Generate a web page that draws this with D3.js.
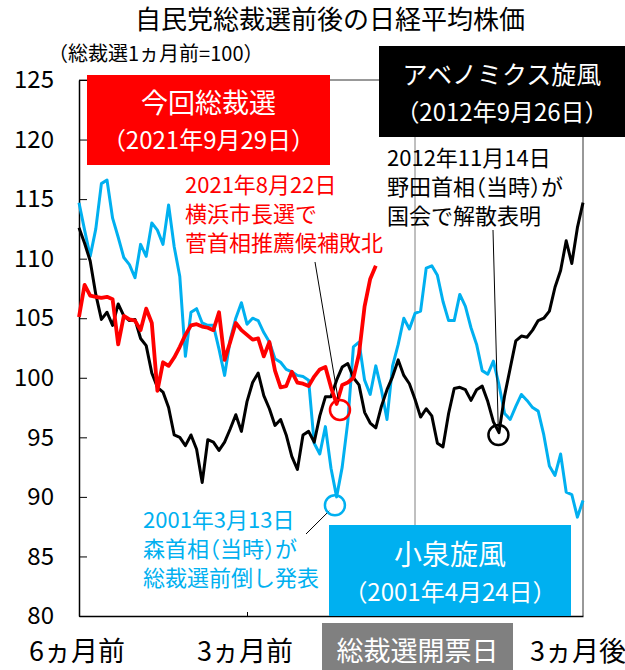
<!DOCTYPE html>
<html>
<head>
<meta charset="utf-8">
<script src="https://cdn.jsdelivr.net/npm/d3@7"></script>
<style>
  body { margin: 0; background: #fff; }
  svg { display: block; font-family: "Noto Sans CJK JP", "Noto Sans", sans-serif; }
</style>
</head>
<body>
<div id="chart"></div>
<script>
// trading days relative to the election day (every 2nd day)
const days = [
  -120, -118, -116, -114, -112, -110, -108, -106, -104, -102,
  -100, -98, -96, -94, -92, -90, -88, -86, -84, -82,
  -80, -78, -76, -74, -72, -70, -68, -66, -64, -62,
  -60, -58, -56, -54, -52, -50, -48, -46, -44, -42,
  -40, -38, -36, -34, -32, -30, -28, -26, -24, -22,
  -20, -18, -16, -14, -12, -10, -8, -6, -4, -2,
  0, 2, 4, 6, 8, 10, 12, 14, 16, 18,
  20, 22, 24, 26, 28, 30, 32, 34, 36, 38,
  40, 42, 44, 46, 48, 50, 52, 54, 56, 58,
  60
];

// 2001 小泉旋風
const koizumi2001 = [
  114.7, 112.4, 110.2, 112.5, 116.3, 116.6, 113.4, 111.8, 110.1, 109.5,
  108.4, 111.2, 110.2, 113.0, 112.4, 111.2, 114.5, 111.0, 108.5, 101.8,
  105.5, 105.8, 104.6, 104.4, 104.4, 102.4, 100.2, 103.2, 105.0, 106.3,
  104.5, 105.0, 104.8, 103.8, 103.0, 101.6, 101.3, 100.7, 100.5, 100.2,
  100.1, 99.8, 94.5, 93.6, 95.9, 92.4, 90.0, 92.5, 96.3, 102.6,
  103.0, 99.8, 98.6, 101.0, 99.0, 96.5, 101.0, 102.8, 105.0, 104.1,
  105.4, 105.6, 109.2, 109.4, 108.6, 106.4, 104.8, 104.8, 107.0, 106.0,
  104.2, 102.8, 100.6, 100.3, 101.4, 99.4, 97.0, 96.5, 97.6, 98.6,
  98.1, 97.5, 97.2, 95.2, 92.6, 91.8, 93.6, 90.4, 90.2, 88.3,
  89.7
];

// 2012 アベノミクス旋風
const abenomics2012 = [
  112.6, 111.3, 109.8, 107.0, 104.9, 105.5, 104.4, 106.2, 105.2, 104.8,
  104.9, 103.3, 102.7, 100.4, 99.2, 98.8, 97.5, 95.2, 95.0, 94.3,
  95.2, 94.0, 91.2, 94.8, 94.6, 93.9, 94.6, 95.7, 96.9, 95.5,
  98.0, 99.6, 100.4, 98.5, 97.4, 96.0, 96.5, 95.2, 93.4, 92.3,
  95.2, 95.5, 94.6, 96.8, 98.4, 98.4, 99.8, 100.9, 101.2, 100.0,
  99.4, 97.1, 96.2, 95.8, 97.6, 99.0, 100.1, 101.5, 100.2, 99.5,
  98.2, 96.7, 97.4, 96.8, 94.5, 94.2, 97.0, 99.1, 99.2, 99.0,
  98.1, 99.0, 99.3, 98.0, 96.3, 95.4, 98.5, 100.8, 103.1, 103.5,
  103.4, 104.0, 104.8, 105.0, 105.6, 107.6, 109.0, 111.5, 109.6, 112.6,
  114.7
];

// 2021 今回総裁選 (data ends before the vote)
const current2021 = [
  105.1, 107.8, 106.9, 106.8, 106.7, 106.8, 106.6, 102.8, 105.2, 104.9,
  104.8, 104.0, 105.8, 104.6, 98.9, 101.3, 101.0, 101.7, 102.6, 103.6,
  104.4, 104.5, 104.3, 104.2, 104.0, 105.5, 101.5, 103.0, 104.6, 104.0,
  103.6, 103.2, 103.3, 101.8, 103.0, 100.6, 99.2, 99.3, 100.5, 99.6,
  99.5, 99.3, 100.1, 100.7, 100.9, 99.2, 97.8, 99.4, 99.6, 100.0,
  102.0, 106.0, 108.3, 109.4
];

const yTicks = [80, 85, 90, 95, 100, 105, 110, 115, 120, 125];
const xLabelDays = [-120, -60, 60];
const xLabelTexts = ["6ヵ月前", "3ヵ月前", "3ヵ月後"];
const voteLabel = "総裁選開票日";

// events marked with circles
const eventDays = [-28.6, -26.8, 29.8];
const eventValues = [89.3, 97.3, 95.2];

const noteMori = ["2001年3月13日", "森首相（当時）が", "総裁選前倒し発表"];
const noteYokohama = ["2021年8月22日", "横浜市長選で", "菅首相推薦候補敗北"];
const noteNoda = ["2012年11月14日", "野田首相（当時）が", "国会で解散表明"];

const boxCurrent = ["今回総裁選", "（2021年9月29日）"];
const boxAbe = ["アベノミクス旋風", "（2012年9月26日）"];
const boxKoizumi = ["小泉旋風", "（2001年4月24日）"];

const title = "自民党総裁選前後の日経平均株価";
const subtitle = "（総裁選1ヵ月前=100）";

const BLUE = "#00b0f0", RED = "#ff0000", BLACK = "#000000";

const width = 625, height = 670;

const x = d3.scaleLinear().domain([-120, 60]).range([79, 583]);
const y = d3.scaleLinear().domain([80, 125]).range([616, 80]);

const svg = d3.select("#chart")
  .append("svg")
  .attr("width", width)
  .attr("height", height);

svg.append("text")
  .attr("x", 330)
  .attr("y", 29)
  .attr("text-anchor", "middle")
  .style("font-size", "26px")
  .text(title);

svg.append("text")
  .attr("x", 48)
  .attr("y", 61)
  .style("font-size", "20px")
  .text(subtitle);

// frame (top/right)
svg.append("path")
  .attr("d", `M${x(-120)},${y(125)}H${x(60)}V${y(80)}`)
  .attr("fill", "none")
  .attr("stroke", "#333")
  .attr("stroke-width", 1);

// vote day line
svg.append("line")
  .attr("x1", x(0)).attr("x2", x(0))
  .attr("y1", y(125)).attr("y2", y(80))
  .attr("stroke", "#808080")
  .attr("stroke-width", 1);

// y axis
svg.append("g")
  .attr("transform", `translate(${x(-120)},0)`)
  .call(d3.axisLeft(y).tickValues(yTicks).tickSizeInner(-8).tickSizeOuter(0).tickPadding(25))
  .call(g => g.select(".domain").attr("stroke", "#000").attr("stroke-width", 1.5))
  .call(g => g.selectAll(".tick line").attr("stroke", "#000"))
  .call(g => g.selectAll(".tick text")
    .attr("fill", "#000")
    .style("font-family", '"Noto Sans CJK JP", sans-serif')
    .style("font-size", "24px"));

// x axis
svg.append("g")
  .attr("transform", `translate(0,${y(80)})`)
  .call(d3.axisBottom(x).tickValues([-60]).tickSizeInner(-4).tickSizeOuter(0).tickFormat(""))
  .call(g => g.select(".domain").attr("stroke", "#000").attr("stroke-width", 1.5))
  .call(g => g.selectAll(".tick line").attr("stroke", "#000"));

svg.selectAll(".xlabel")
  .data(xLabelDays)
  .join("text")
  .attr("class", "xlabel")
  .attr("x", (d, i) => x(d) + (i === 2 ? -5 : -2))
  .attr("y", 661)
  .attr("text-anchor", "middle")
  .style("font-size", "27px")
  .text((d, i) => xLabelTexts[i]);

// lines
const line = d3.line()
  .x((d, i) => x(days[i]))
  .y(d => y(d));

[[koizumi2001, BLUE, 3], [abenomics2012, BLACK, 3], [current2021, RED, 3.8]].forEach(([vals, col, w]) => {
  svg.append("path")
    .datum(vals)
    .attr("d", line)
    .attr("fill", "none")
    .attr("stroke", col)
    .attr("stroke-width", w)
    .attr("stroke-linejoin", "round");
});

// event circles + leaders
const eventColors = [BLUE, RED, BLACK];
const leaderFrom = [[306, 534], [315, 262], [493, 230]];
const r = 10;

eventDays.forEach((d, i) => {
  const cx = x(d), cy = y(eventValues[i]);
  const [fx, fy] = leaderFrom[i];
  const len = Math.hypot(cx - fx, cy - fy);
  svg.append("line")
    .attr("x1", fx).attr("y1", fy)
    .attr("x2", cx - (cx - fx) / len * (r - 2))
    .attr("y2", cy - (cy - fy) / len * (r - 2))
    .attr("stroke", "#000")
    .attr("stroke-width", 1);
  svg.append("circle")
    .attr("cx", cx).attr("cy", cy)
    .attr("r", r)
    .attr("fill", "none")
    .attr("stroke", eventColors[i])
    .attr("stroke-width", 2.5);
});

function note(lines, x0, y0, color) {
  svg.append("g").selectAll("text")
    .data(lines)
    .join("text")
    .attr("x", x0)
    .attr("y", (d, i) => y0 + i * 29)
    .attr("fill", color)
    .style("font-size", "22px")
    .style("font-feature-settings", '"halt"')
    .text(d => d);
}
note(noteYokohama, 185, 193, RED);
note(noteNoda, 387, 166, BLACK);
note(noteMori, 143, 528, BLUE);

function box(lines, x0, y0, w, h, fill, sizes, baselines) {
  svg.append("rect")
    .attr("x", x0).attr("y", y0)
    .attr("width", w).attr("height", h)
    .attr("fill", fill);
  lines.forEach((t, i) => {
    svg.append("text")
      .attr("x", x0 + w / 2)
      .attr("y", baselines[i])
      .attr("text-anchor", "middle")
      .attr("fill", "#fff")
      .style("font-size", sizes[i] + "px")
      .text(t);
  });
}
box(boxCurrent, 87, 75, 243, 90, RED, [27, 24], [113, 149]);
box(boxAbe, 379, 46, 246, 91, BLACK, [25, 24], [84, 121]);
box(boxKoizumi, 329, 525, 242, 91, BLUE, [28, 24], [565, 601]);
box([voteLabel], 322, 623, 191, 47, "#808080", [27], [661]);
</script>
</body>
</html>
